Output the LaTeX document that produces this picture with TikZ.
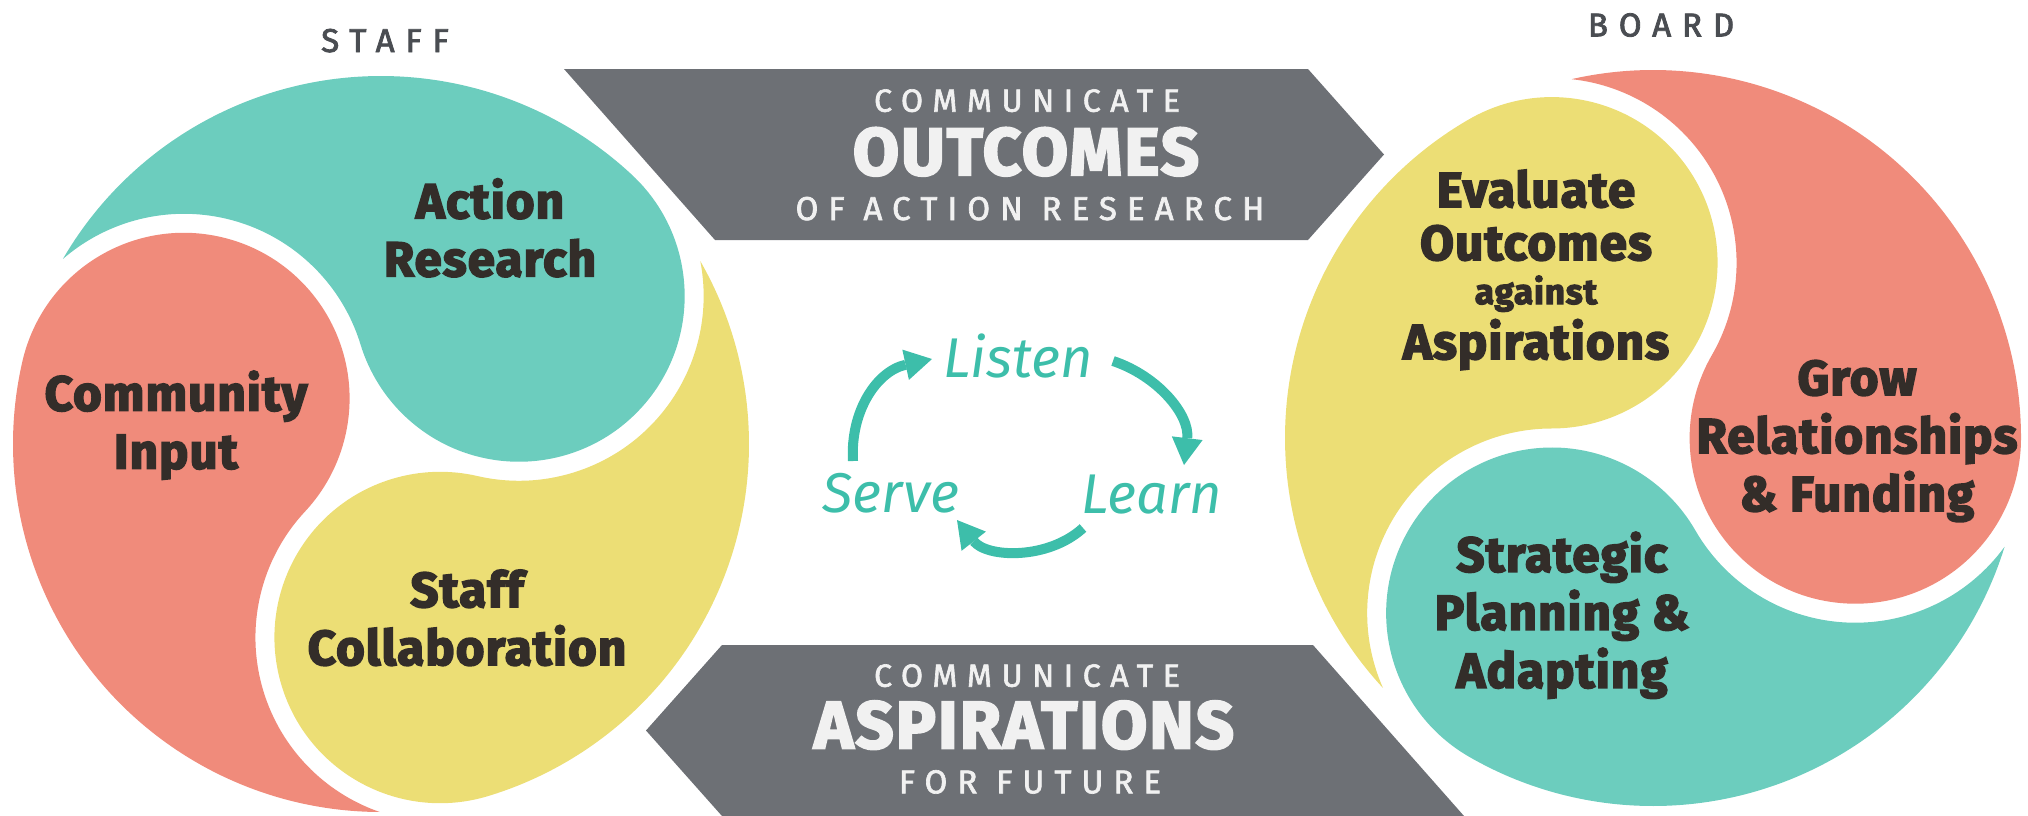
\documentclass[tikz,border=0pt]{standalone}
\usepackage{fontspec}
\setmainfont{Fira Sans}
\usetikzlibrary{calc,arrows.meta}

\definecolor{petalTeal}{HTML}{6CCDBE}
\definecolor{petalRed}{HTML}{F08B7B}
\definecolor{petalYellow}{HTML}{ECDE75}
\definecolor{bannerGray}{HTML}{6D7075}
\definecolor{bannerText}{HTML}{F1F1F1}
\definecolor{labelInk}{HTML}{332D29}
\definecolor{headInk}{HTML}{4A4D52}
\definecolor{cycleTeal}{HTML}{3DBEAA}

% One comma-shaped petal of a three-part swirl.
% #1 swirl centre, #2 angle of the petal's round head, #3 colour.
% Outer radius 368, head radius 165.69 (centre 202.31 out), white gap 19.
\newcommand\swirlpetal[3]{%
  \fill[#3] ($(#1)+({#2+102.79}:368pt)$)
    arc[start angle={#2+102.79}, end angle={#2}, radius=368pt]
    arc[start angle={#2}, end angle={#2-210}, radius=165.69pt]
    arc[start angle={#2-30}, end angle={#2+83.89}, radius=184.69pt]
    -- cycle;}

% Centred multi-line label whose baseline is the first line
\newcommand\stacklines[1]{\begin{tabular}[t]{@{}c@{}}#1\end{tabular}}

\begin{document}
\begin{tikzpicture}[x=1pt,y=1pt,
  petallabel/.style={font=\bfseries\fontsize{49}{58}\selectfont\addfontfeatures{LetterSpace=2.5,FakeBold=3.5},
    text=labelInk, anchor=base, inner sep=0pt},
  headline/.style={font=\fontsize{33}{33}\selectfont\addfontfeatures{LetterSpace=33,FakeBold=2.5},
    text=headInk, anchor=base, inner sep=0pt},
  bannersmall/.style={font=\fontsize{32}{32}\selectfont\addfontfeatures{LetterSpace=30,FakeBold=2},
    text=bannerText, anchor=base, inner sep=0pt},
  bannersub/.style={font=\fontsize{33}{33}\selectfont\addfontfeatures{LetterSpace=30.5,FakeBold=2},
    text=bannerText, anchor=base, inner sep=0pt},
  bannerbig/.style={font=\bfseries\fontsize{67}{67}\selectfont\addfontfeatures{LetterSpace=3,FakeBold=3},
    text=bannerText, anchor=base, inner sep=0pt},
  cycleword/.style={font=\itshape\fontsize{56}{56}\selectfont, text=cycleTeal,
    anchor=base, inner sep=0pt},
  cyclearrow/.style={draw=cycleTeal, line width=10pt,
    -{Triangle[length=27pt,width=31pt,line width=0pt]}},
  banner/.style={fill=bannerGray}]

\useasboundingbox (0,0) rectangle (2028,-815);

% ---- swirl centres
\coordinate (staffC) at (381,-444);
\coordinate (boardC) at (1653,-438);

% ---- staff swirl
\swirlpetal{staffC}{47}{petalTeal}
\swirlpetal{staffC}{167}{petalRed}
\swirlpetal{staffC}{287}{petalYellow}

% ---- board swirl
\swirlpetal{boardC}{120}{petalYellow}
\swirlpetal{boardC}{0}{petalRed}
\swirlpetal{boardC}{240}{petalTeal}

% ---- banners
\fill[banner] (564,-69) -- (1308,-69) -- (1384,-154.5) -- (1308,-240) -- (715,-240) -- cycle;
\fill[banner] (722,-645) -- (1313,-645) -- (1464,-816) -- (722,-816) -- (646,-730.5) -- cycle;

% ---- headings
\node[headline] (staffhead) at (385,-52) {STAFF};
\node[headline] (boardhead) at (1661,-36.4) {BOARD};

% ---- petal labels
\node[petallabel] (action) at (490,-218.3) {\stacklines{Action\\Research}};
\node[petallabel] (community) at (176,-410.6) {\stacklines{Community\\Input}};
\node[petallabel] (collab) at (467,-607) {\stacklines{Staff\\Collaboration}};
\node[petallabel] (evaluate) at (1536,-207) {\stacklines{Evaluate\\[-5pt]Outcomes\\[-14pt]{\fontsize{35}{35}\selectfont against}\\[-3pt]Aspirations}};
\node[petallabel] (grow) at (1857,-395) {\stacklines{Grow\\Relationships\\\& Funding}};
\node[petallabel] (strategic) at (1562,-571.7) {\stacklines{Strategic\\Planning \&\\Adapting}};

% ---- banner texts
\node[bannersmall] (outpre) at (1027,-111.7) {COMMUNICATE};
\node[bannerbig] (outmain) at (1026,-175) {OUTCOMES};
\node[bannersub] (outpost) at (1030,-220) {OF ACTION RESEARCH};
\node[bannersmall] (asppre) at (1027,-686.7) {COMMUNICATE};
\node[bannerbig] (aspmain) at (1024,-748.3) {ASPIRATIONS};
\node[bannersub] (asppost) at (1030,-793.3) {FOR FUTURE};

% ---- listen / learn / serve cycle
\node[cycleword] (listen) at (1018,-377) {Listen};
\node[cycleword] (serve) at (891,-512) {Serve};
\node[cycleword] (learn) at (1152,-513) {Learn};

\coordinate (serveout) at (853,-461);
\coordinate (listenin) at (932,-359);
\coordinate (listenout) at (1113,-361);
\coordinate (learnin) at (1184,-465);
\coordinate (learnout) at (1083,-528);
\coordinate (servein) at (957,-520);

\draw[cyclearrow] (serveout) .. controls +(-3,50) and +(-55,-12) .. (listenin);
\draw[cyclearrow] (listenout) .. controls +(45,-15) and +(6,50) .. (learnin);
\draw[cyclearrow] (learnout) .. controls +(-35,-32) and +(30,-38) .. (servein);

\end{tikzpicture}
\end{document}
